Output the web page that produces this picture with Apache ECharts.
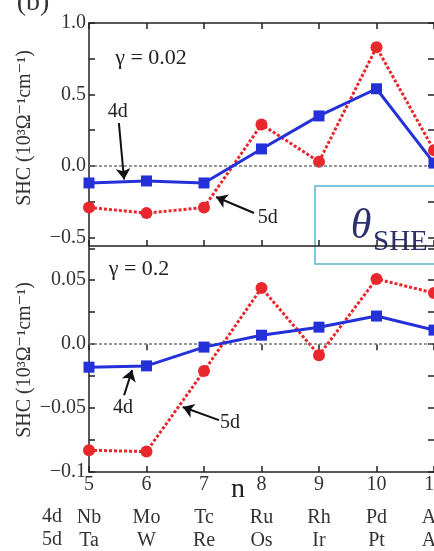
<!DOCTYPE html>
<html>
<head>
<meta charset="utf-8">
<script src="https://cdn.jsdelivr.net/npm/echarts@6/dist/echarts.min.js"></script>
<style>
  html, body { margin: 0; padding: 0; background: #fff; }
  #chart { width: 434px; height: 551px; }
</style>
</head>
<body>
<div id="chart"></div>
<script>
// Band filling n (d-electron count)
const nValues = [5, 6, 7, 8, 9, 10, 11];
const elements4d = ['Nb', 'Mo', 'Tc', 'Ru', 'Rh', 'Pd', 'Ag'];
const elements5d = ['Ta', 'W', 'Re', 'Os', 'Ir', 'Pt', 'Au'];

// Spin Hall conductivity, 10^3 Ω^-1 cm^-1, gamma = 0.02
const shc4dWeak = [-0.119, -0.105, -0.119, 0.119, 0.35, 0.54, 0.02];
const shc5dWeak = [-0.29, -0.33, -0.29, 0.29, 0.03, 0.83, 0.11];
// Spin Hall conductivity, gamma = 0.2
const shc4dStrong = [-0.018, -0.017, -0.0023, 0.007, 0.0133, 0.022, 0.011];
const shc5dStrong = [-0.083, -0.084, -0.021, 0.044, -0.0086, 0.051, 0.040];

// Axis ticks and their labels
const topLabelValues = [-0.5, 0, 0.5, 1.0];
const topLabelText = ['\u22120.5', '0.0', '0.5', '1.0'];
const topTickValues = [-0.5, -0.25, 0, 0.25, 0.5, 0.75, 1.0];
const botLabelValues = [-0.1, -0.05, 0, 0.05];
const botLabelText = ['\u22120.1', '\u22120.05', '0.0', '0.05'];
const botTickValues = [-0.1, -0.075, -0.05, -0.025, 0, 0.025, 0.05, 0.075];

// Arrow annotations in data coordinates: label position, arrow tail, arrow head
const annTop4d = { text: '4d', label: [5.50, 0.378], from: [5.52, 0.30], to: [5.61, -0.095] };
const annTop5d = { text: '5d', label: [8.11, -0.364], from: [7.87, -0.329], to: [7.21, -0.217] };
const annBot4d = { text: '4d', label: [5.59, -0.050], from: [5.61, -0.040], to: [5.75, -0.0203] };
const annBot5d = { text: '5d', label: [7.45, -0.0617], from: [7.26, -0.0594], to: [6.63, -0.0492] };

const SERIF = '"Liberation Serif", "DejaVu Serif", serif';
const AXIS_COLOR = '#222';
const BLUE = '#2430d8';
const RED = '#e8282c';

const pairs = (ys) => nValues.map((n, i) => [n, ys[i]]);

function arrowLines(anns) {
  return anns.map(a => [{ coord: a.from }, { coord: a.to }]);
}
function arrowLabels(anns) {
  return anns.map(a => ({ name: a.text, coord: a.label }));
}

const chart = echarts.init(document.getElementById('chart'), null, { renderer: 'canvas' });

const xBase = {
  type: 'value', min: 5, max: 11, interval: 1,
  splitLine: { show: false },
  axisLine: { show: true, onZero: false, lineStyle: { color: AXIS_COLOR, width: 1.5 } },
  axisTick: { show: true, inside: true, length: 6, lineStyle: { color: AXIS_COLOR, width: 1.5 } },
  axisLabel: { show: false }
};

function yAxisDef(grid, min, max, labelVals, labelText, tickVals, right) {
  return {
    type: 'value', gridIndex: grid, min: min, max: max,
    position: right ? 'right' : 'left',
    splitLine: { show: false },
    axisLine: { show: !right, onZero: false, lineStyle: { color: AXIS_COLOR, width: 1.5 } },
    axisTick: { show: true, inside: true, length: 6, customValues: tickVals,
                lineStyle: { color: AXIS_COLOR, width: 1.5 } },
    axisLabel: right ? { show: false } : {
      show: true, customValues: labelVals, margin: 3,
      fontFamily: SERIF, fontSize: 20, color: '#333',
      formatter: (v) => {
        const i = labelVals.findIndex(x => Math.abs(x - v) < 1e-9);
        return i >= 0 ? labelText[i] : '';
      }
    }
  };
}

function elementAxis(names, margin) {
  return {
    type: 'value', gridIndex: 1, min: 5, max: 11, interval: 1, position: 'bottom',
    splitLine: { show: false }, axisLine: { show: false }, axisTick: { show: false },
    axisLabel: {
      show: true, margin: margin, fontFamily: SERIF, fontSize: 20, color: '#333',
      showMinLabel: true, showMaxLabel: true,
      formatter: (v) => names[Math.round(v) - 5] || ''
    }
  };
}

const annLabelStyle = {
  show: true, position: 'inside', formatter: '{b}',
  fontFamily: SERIF, fontSize: 20, color: '#222'
};

function dataSeries(name, xi, yi, ys, color, isDotted, symbol, extra) {
  return Object.assign({
    name: name, type: 'line', xAxisIndex: xi, yAxisIndex: yi,
    data: pairs(ys), symbol: symbol, symbolSize: symbol === 'rect' ? 11 : 12,
    itemStyle: { color: color },
    lineStyle: { color: color, width: 3, type: isDotted ? [3, 2] : 'solid' },
    z: 5, clip: false
  }, extra || {});
}

function zeroLine() {
  return {
    silent: true, symbol: ['none', 'none'], label: { show: false },
    lineStyle: { color: '#777', width: 1.5, type: [3, 2] },
    data: [{ yAxis: 0 }]
  };
}
function arrowMark(anns) {
  return {
    silent: true, symbol: ['none', 'arrow'], symbolSize: 11, label: { show: false },
    itemStyle: { color: '#111' },
    lineStyle: { color: '#111', width: 2, type: 'solid' },
    data: arrowLines(anns), z: 6
  };
}
function labelMark(anns) {
  return {
    silent: true, symbol: 'circle', symbolSize: 0,
    itemStyle: { color: 'transparent' },
    label: annLabelStyle, data: arrowLabels(anns)
  };
}

const gridBase = { left: 89, right: 0, outerBoundsMode: 'none', containLabel: false };

const option = {
  animation: false,
  backgroundColor: '#fff',
  grid: [
    Object.assign({}, gridBase, { top: 23, height: 223 }),
    Object.assign({}, gridBase, { top: 247, height: 225 })
  ],
  xAxis: [
    Object.assign({}, xBase, { gridIndex: 0, position: 'bottom' }),
    Object.assign({}, xBase, { gridIndex: 0, position: 'top' }),
    Object.assign({}, xBase, {
      gridIndex: 1, position: 'bottom',
      axisLabel: { show: true, margin: 3, fontFamily: SERIF, fontSize: 20, color: '#333',
                   showMinLabel: true, showMaxLabel: true,
                   formatter: (v) => String(v) }
    }),
    // the two panels share one frame line; only the ticks of this edge are drawn
    Object.assign({}, xBase, { gridIndex: 1, position: 'top', axisLine: { show: false } }),
    elementAxis(elements4d, 36),
    elementAxis(elements5d, 59)
  ],
  yAxis: [
    yAxisDef(0, -0.56, 1.0, topLabelValues, topLabelText, topTickValues, false),
    yAxisDef(0, -0.56, 1.0, topLabelValues, topLabelText, topTickValues, true),
    yAxisDef(1, -0.1, 0.076, botLabelValues, botLabelText, botTickValues, false),
    yAxisDef(1, -0.1, 0.076, botLabelValues, botLabelText, botTickValues, true)
  ],
  series: [
    dataSeries('4d', 0, 0, shc4dWeak, BLUE, false, 'rect', {
      markLine: arrowMark([annTop4d, annTop5d]),
      markPoint: labelMark([annTop4d, annTop5d])
    }),
    dataSeries('5d', 0, 0, shc5dWeak, RED, true, 'circle', { markLine: zeroLine(), z: 4 }),
    dataSeries('4d', 2, 2, shc4dStrong, BLUE, false, 'rect', {
      markLine: arrowMark([annBot4d, annBot5d]),
      markPoint: labelMark([annBot4d, annBot5d])
    }),
    dataSeries('5d', 2, 2, shc5dStrong, RED, true, 'circle', { markLine: zeroLine(), z: 4 })
  ],
  graphic: [
    { type: 'text', x: 33, y: 3, z: 10,
      style: { text: '(b)', font: '28px ' + SERIF, fill: '#333', align: 'center', verticalAlign: 'middle' } },
    { type: 'text', x: 151, y: 58, z: 10,
      style: { text: '\u03b3 = 0.02', font: '22px ' + SERIF, fill: '#222', align: 'center', verticalAlign: 'middle' } },
    { type: 'text', x: 139, y: 269, z: 10,
      style: { text: '\u03b3 = 0.2', font: '22px ' + SERIF, fill: '#222', align: 'center', verticalAlign: 'middle' } },
    { type: 'text', x: 25, y: 128, rotation: Math.PI / 2, z: 10,
      style: { text: 'SHC (10\u00b3\u03a9\u207b\u00b9cm\u207b\u00b9)', font: '20px ' + SERIF, fill: '#333',
               align: 'center', verticalAlign: 'middle' } },
    { type: 'text', x: 25, y: 360, rotation: Math.PI / 2, z: 10,
      style: { text: 'SHC (10\u00b3\u03a9\u207b\u00b9cm\u207b\u00b9)', font: '20px ' + SERIF, fill: '#333',
               align: 'center', verticalAlign: 'middle' } },
    { type: 'text', x: 238, y: 490, z: 10,
      style: { text: 'n', font: '28px ' + SERIF, fill: '#222', align: 'center', verticalAlign: 'middle' } },
    { type: 'text', x: 52, y: 517, z: 10,
      style: { text: '4d', font: '20px ' + SERIF, fill: '#333', align: 'center', verticalAlign: 'middle' } },
    { type: 'text', x: 52, y: 540, z: 10,
      style: { text: '5d', font: '20px ' + SERIF, fill: '#333', align: 'center', verticalAlign: 'middle' } },
    // inset box with the spin Hall angle symbol
    { type: 'group', z: 20, children: [
      { type: 'rect', shape: { x: 315, y: 186, width: 140, height: 78 },
        style: { fill: '#fff', stroke: '#5ab4d0', lineWidth: 1.5 } },
      { type: 'text', x: 361, y: 227,
        style: { text: '\u03b8', font: 'italic 42px ' + SERIF, fill: '#2b2f6c', align: 'center', verticalAlign: 'middle' } },
      { type: 'text', x: 373, y: 242,
        style: { text: 'SHE', font: '29px ' + SERIF, fill: '#2b2f6c', align: 'left', verticalAlign: 'middle' } }
    ] }
  ]
};

chart.setOption(option);
</script>
</body>
</html>
